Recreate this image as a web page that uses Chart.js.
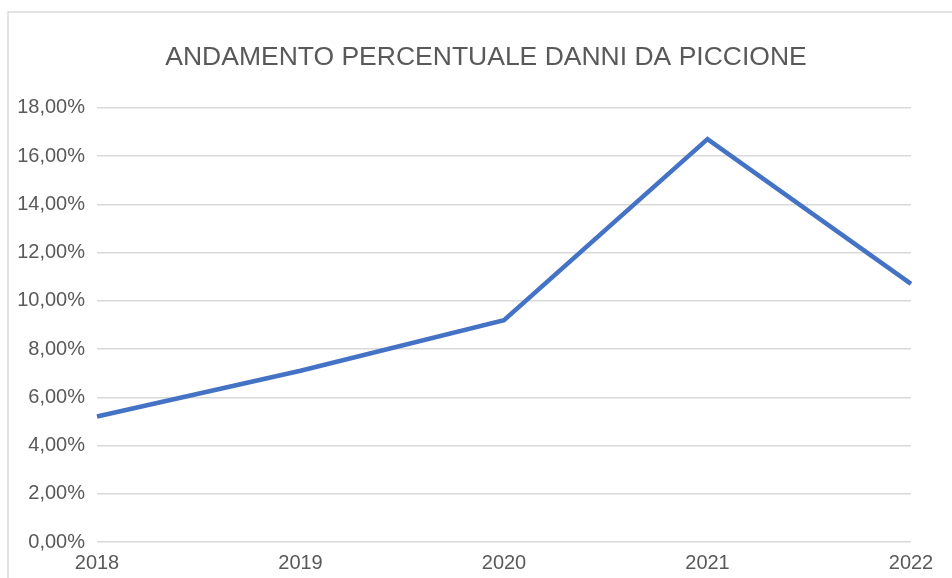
<!DOCTYPE html>
<html>
<head>
  <title>Andamento percentuale danni da piccione</title>
  <script src="https://cdn.jsdelivr.net/npm/chart.js"></script>
  <style>
    body { margin: 0; background: #fff; }
    #wrap { position: relative; width: 952px; height: 578px; }
  </style>
</head>
<body>
  <div id="wrap"><canvas id="lineChart" width="952" height="578"></canvas></div>
  <script>
    const years = ['2018', '2019', '2020', '2021', '2022'];
    const damagePct = [5.2, 7.1, 9.2, 16.7, 10.7];
    const yTicks = [0, 2, 4, 6, 8, 10, 12, 14, 16, 18];

    const fontFamily = '"Liberation Sans", Arial, sans-serif';
    const grey = '#595959';

    // light frame around the chart, cropped on the right and bottom like the original
    const frame = {
      id: 'frame',
      beforeDraw(chart) {
        const ctx = chart.ctx;
        ctx.save();
        ctx.fillStyle = '#fff';
        ctx.fillRect(0, 0, chart.width, chart.height);
        ctx.strokeStyle = '#d9d9d9';
        ctx.lineWidth = 1.5;
        ctx.strokeRect(8, 12, 1000, 700);
        ctx.restore();
      },
      // centre the title over the whole frame, not just the plot
      afterLayout(chart) {
        if (chart.titleBlock) {
          chart.titleBlock.left = 20;
          chart.titleBlock.right = 952;
          chart.titleBlock.width = 932;
        }
      }
    };

    new Chart(document.getElementById('lineChart'), {
      type: 'line',
      data: {
        labels: years,
        datasets: [{
          data: damagePct,
          borderColor: '#4472C4',
          borderWidth: 4.5,
          pointRadius: 0,
          tension: 0,
          borderJoinStyle: 'miter',
          fill: false
        }]
      },
      options: {
        responsive: false,
        animation: false,
        layout: { padding: { left: 0, right: 41, top: 0, bottom: 0 } },
        plugins: {
          legend: { display: false },
          tooltip: { enabled: false },
          title: {
            display: true,
            text: 'ANDAMENTO PERCENTUALE DANNI DA PICCIONE',
            color: grey,
            font: { family: fontFamily, size: 26.5, weight: 'normal' },
            padding: { top: 42, bottom: 34 }
          }
        },
        scales: {
          x: {
            offset: false,
            grid: { display: false, drawTicks: false },
            border: { display: false },
            ticks: {
              color: grey,
              padding: 9,
              maxRotation: 0,
              font: { family: fontFamily, size: 20 }
            },
            afterFit(scale) { scale.height = 36; }
          },
          y: {
            min: 0,
            max: 18,
            afterBuildTicks(scale) { scale.ticks = yTicks.map(v => ({ value: v })); },
            grid: { color: '#d9d9d9', lineWidth: 1.5, drawTicks: false },
            border: { display: false },
            ticks: {
              color: grey,
              padding: 12,
              font: { family: fontFamily, size: 20 },
              callback: v => v.toFixed(2).replace('.', ',') + '%'
            },
            afterFit(scale) { scale.width = 97; }
          }
        }
      },
      plugins: [frame]
    });
  </script>
</body>
</html>
